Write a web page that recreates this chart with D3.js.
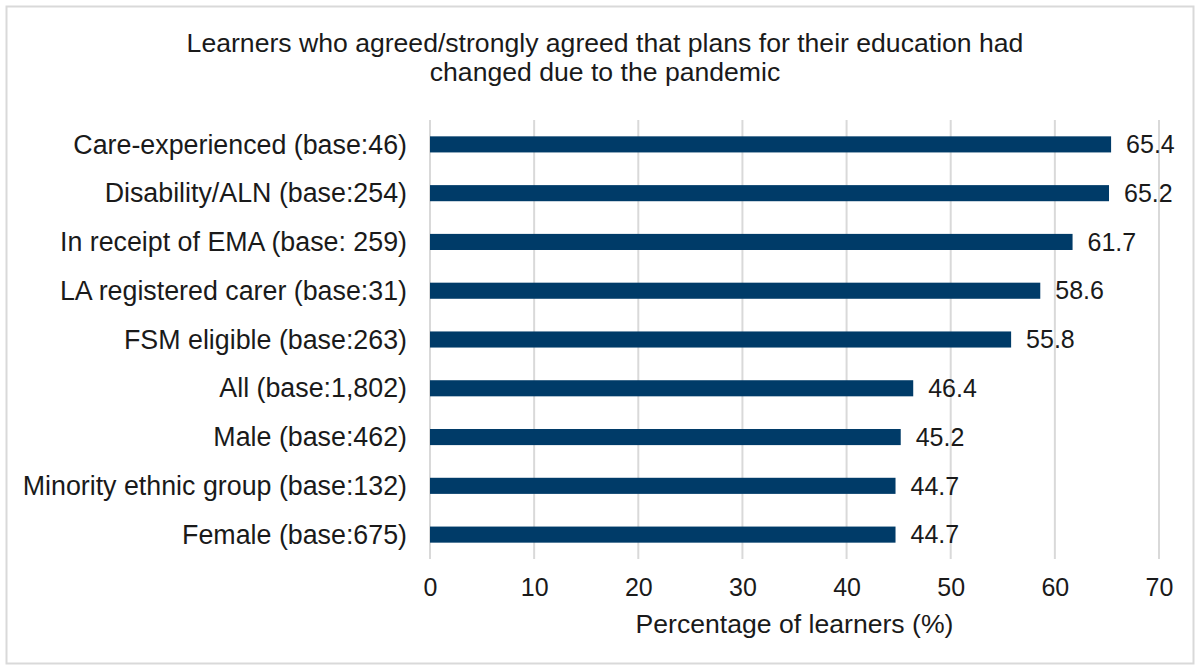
<!DOCTYPE html>
<html>
<head>
<meta charset="utf-8">
<script src="https://cdn.jsdelivr.net/npm/d3@7"></script>
<style>
  html, body { margin: 0; padding: 0; background: #fff; }
  svg text { font-family: "Liberation Sans", Arial, sans-serif; fill: #1a1a1a; }
</style>
</head>
<body>
<svg id="chart" width="1200" height="670"></svg>
<script>
// Learner groups, top to bottom
const categories = [
  "Care-experienced (base:46)",
  "Disability/ALN (base:254)",
  "In receipt of EMA (base: 259)",
  "LA registered carer (base:31)",
  "FSM eligible (base:263)",
  "All (base:1,802)",
  "Male (base:462)",
  "Minority ethnic group (base:132)",
  "Female (base:675)"
];
// Percentage who agreed/strongly agreed
const values = [65.4, 65.2, 61.7, 58.6, 55.8, 46.4, 45.2, 44.7, 44.7];
const xTicks = [0, 10, 20, 30, 40, 50, 60, 70];
const titleLines = [
  "Learners who agreed/strongly agreed that plans for their education had",
  "changed due to the pandemic"
];
const xTitle = "Percentage of learners (%)";

const W = 1200, H = 670;
const margin = { left: 430, right: 41, top: 120, bottom: 111 };
const fontSize = "26.6px";
const labelSize = "26.8px";
const numSize = "25px";
const svg = d3.select("#chart");

// outer frame
svg.append("rect")
  .attr("x", 6.5).attr("y", 6.5)
  .attr("width", W - 13).attr("height", H - 13)
  .attr("fill", "#fff").attr("stroke", "#d9d9d9").attr("stroke-width", 2);

const x = d3.scaleLinear().domain([0, 70]).range([margin.left, W - margin.right]);
const y = d3.scaleBand().domain(categories)
  .range([margin.top, H - margin.bottom]).paddingInner(0.67).paddingOuter(0.335);

// title
svg.append("g").selectAll("text").data(titleLines).join("text")
  .attr("x", 605).attr("y", (d, i) => 52 + i * 28.5)
  .attr("text-anchor", "middle")
  .style("font-size", fontSize)
  .text(d => d);

// vertical gridlines
svg.append("g").selectAll("line").data(xTicks).join("line")
  .attr("x1", d => x(d)).attr("x2", d => x(d))
  .attr("y1", margin.top).attr("y2", H - margin.bottom)
  .attr("stroke", "#d9d9d9").attr("stroke-width", 2);

// x axis tick labels
const xAxis = d3.axisBottom(x).tickValues(xTicks).tickSize(0).tickPadding(0).tickFormat(d3.format("d"));
const gx = svg.append("g").attr("transform", `translate(0,596)`).call(xAxis);
gx.select(".domain").remove();
gx.selectAll("text").style("font-size", numSize).attr("dy", "0")
  .style("font-family", "'Liberation Sans', Arial, sans-serif").attr("fill", "#1a1a1a");

// y axis category labels
const yAxis = d3.axisLeft(y).tickSize(0).tickPadding(23);
const gy = svg.append("g").attr("transform", `translate(${margin.left},0)`).call(yAxis);
gy.select(".domain").remove();
gy.selectAll("text").style("font-size", labelSize).attr("dy", "0.34em")
  .style("font-family", "'Liberation Sans', Arial, sans-serif").attr("fill", "#1a1a1a");

// bars
svg.append("g").selectAll("rect").data(values).join("rect")
  .attr("x", x(0))
  .attr("y", (d, i) => y(categories[i]))
  .attr("width", d => x(d) - x(0))
  .attr("height", y.bandwidth())
  .attr("fill", "#003b68");

// value labels
svg.append("g").selectAll("text").data(values).join("text")
  .attr("x", d => x(d) + 15)
  .attr("y", (d, i) => y(categories[i]) + y.bandwidth() / 2)
  .attr("dy", "0.35em")
  .style("font-size", numSize)
  .text(d => d3.format(".1f")(d));

// x axis title
svg.append("text")
  .attr("x", (x(0) + x(70)) / 2).attr("y", 633)
  .attr("text-anchor", "middle")
  .style("font-size", fontSize)
  .text(xTitle);
</script>
</body>
</html>
